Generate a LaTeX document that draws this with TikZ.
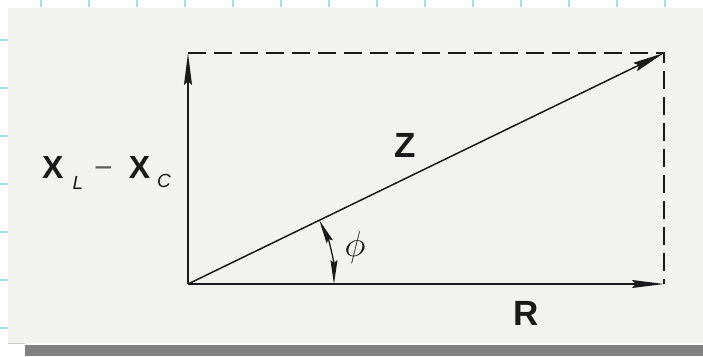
\RequirePackage{fix-cm}
\documentclass[tikz,border=0pt]{standalone}
\usepackage{fontspec}
\newfontfamily\hv{Liberation Sans}
\usetikzlibrary{arrows.meta}
\definecolor{bgtex}{HTML}{F2F2EE}
\definecolor{tickc}{HTML}{A8DCF0}
\definecolor{barg}{HTML}{808080}
\definecolor{ink}{HTML}{1A1A1A}
\begin{document}
\begin{tikzpicture}[x=1pt,y=-1pt,
  vecline/.style={ink, line width=1.8pt, -{Stealth[length=32pt,width=8pt,inset=4pt]}},
  zline/.style={ink, line width=1.5pt, -{Stealth[length=32pt,width=9pt,inset=4pt]}},
  dashline/.style={ink, line width=1.7pt, dash pattern=on 18pt off 8pt},
  anglearc/.style={ink, line width=1.3pt, {Stealth[length=24pt,width=7pt,inset=3pt]}-{Stealth[length=24pt,width=7pt,inset=3pt]}},
  biglabel/.style={font=\hv\bfseries\fontsize{35}{35}\selectfont, text=ink, inner sep=0pt},
  tickmark/.style={tickc, line width=1.4pt}]
\useasboundingbox (0,0) rectangle (703,356);
\fill[white] (0,0) rectangle (703,356);
\fill[bgtex] (8,8) rectangle (703,343);
\foreach \t in {41,89,...,665} {\draw[tickmark] (\t,0) -- (\t,7);}
\foreach \t in {40,88,...,328} {\draw[tickmark] (0,\t) -- (8,\t);}
\fill[barg] (25,345) rectangle (703,356);
\draw[gray!45, line width=1pt] (8,343.5) -- (25,343.5);

\coordinate (O) at (188,284);
\coordinate (A) at (188,53);
\coordinate (B) at (664,53);
\coordinate (C) at (664,284);
\coordinate (P) at (319.3,220.2);

\draw[dashline] (A) -- (B) -- (C);
\draw[vecline] (O) -- (A);
\draw[vecline] (O) -- (C);
\draw[zline] (O) -- (B);
\draw[anglearc] (P) arc[start angle=-25.9, end angle=0, radius=146];

\node[biglabel] (zl) at (405,145) {Z};
\node[biglabel] (rl) at (526,313) {R};
\node[text=ink, inner sep=0pt, font=\fontsize{36}{36}\selectfont] (phl) at (355,247) {$\phi$};
\node[text=ink, inner sep=0pt, anchor=base west] (xl) at (42,178)
  {\hv\fontsize{32}{32}\selectfont\textbf{X}\hspace{9pt}\raisebox{-11pt}{\fontsize{19}{19}\selectfont\itshape L}\hspace{11pt}{\color{ink!70}\char"2212}\hspace{16pt}\textbf{X}\hspace{7pt}\raisebox{-9pt}{\fontsize{19}{19}\selectfont\itshape C}};
\end{tikzpicture}
\end{document}
